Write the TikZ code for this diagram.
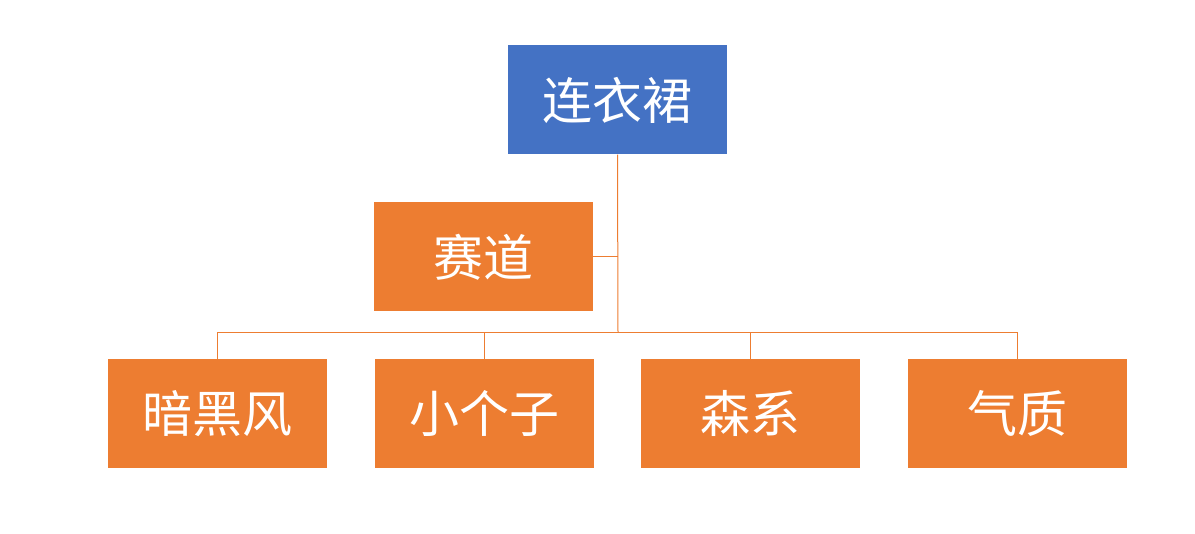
\documentclass[tikz,border=0pt]{standalone}
\usepackage{fontspec}
\newfontfamily\cjk{Noto Sans CJK SC}
\definecolor{bl}{HTML}{4472C4}
\definecolor{or}{HTML}{ED7D31}
\begin{document}
\begin{tikzpicture}[x=1pt,y=-1pt,
 box/.style={minimum width=219pt,minimum height=109pt,inner sep=0pt,text=white,font=\cjk\fontsize{50}{56}\selectfont},
 ln/.style={draw=or,line width=1pt}]
\useasboundingbox (0,0) rectangle (1195,534);
\node[box,fill=bl] (top) at (617.5,100) {连衣裙};
\node[box,fill=or] (as) at (483.5,257) {赛道};
\node[box,fill=or] (b1) at (217.5,413.5) {暗黑风};
\node[box,fill=or] (b2) at (484.5,413.5) {小个子};
\node[box,fill=or] (b3) at (750.5,413.5) {森系};
\node[box,fill=or] (b4) at (1017.5,413.5) {气质};
\coordinate (j) at (618,333);
\coordinate (k) at (618,257);
\draw[ln] (top.south) -- (j);
\draw[ln] (as.east) -- (k);
\foreach \b in {b1,b2,b3,b4}{\draw[ln] (j) -| (\b.north);}
\end{tikzpicture}
\end{document}
